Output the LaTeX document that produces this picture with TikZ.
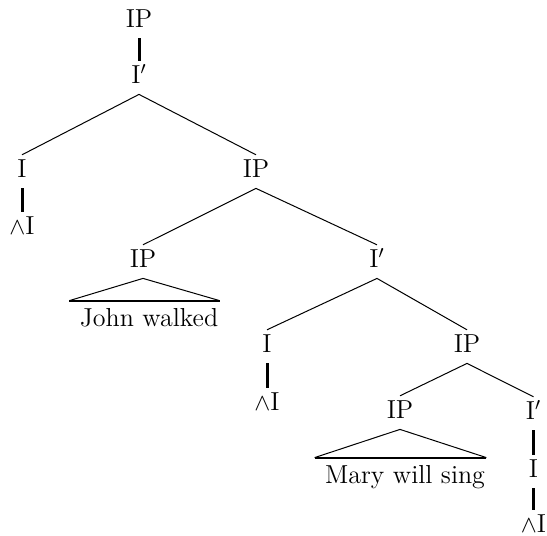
\documentclass[tikz,border=0pt]{standalone}
\usepackage{amsmath,amssymb}
\usepackage{tikz}

\begin{document}
\begin{tikzpicture}[x=0.5pt,y=-0.5pt,
  lbl/.style={anchor=base,inner xsep=0pt,inner ysep=2pt,text height=8.9pt,text depth=3.5pt,font=\fontsize{13}{15}\selectfont},
  yld/.style={lbl,inner ysep=3.6pt,text depth=2pt},
  branch/.style={line width=0.5pt},
  unary/.style={line width=1.5pt},
  roof/.style={line width=1pt}]
\useasboundingbox (0,0) rectangle (547,536);

% labels of the tree, by level %
\node[lbl] (ipA) at (139,27) {IP};
\node[lbl] (ibA) at (139,83) {I$'$};
\node[lbl] (iA) at (22,177) {I};
\node[lbl] (ipB) at (256,177) {IP};
\node[lbl] (wA) at (22,234) {$\wedge$I};
\node[lbl] (ipC) at (143,267) {IP};
\node[lbl] (ibB) at (377,267) {I$'$};
\node[yld] (jw) at (149,326) {John walked};
\node[lbl] (iB) at (267,352) {I};
\node[lbl] (ipD) at (467,352) {IP};
\node[lbl] (wB) at (267,410) {$\wedge$I};
\node[lbl] (ipE) at (400,418) {IP};
\node[lbl] (ibC) at (533.5,419) {I$'$};
\node[lbl] (iC) at (533.5,477) {I};
\node[yld] (mws) at (405,483) {Mary will sing};
\node[lbl] (wC) at (533.5,532) {$\wedge$I};

% unary branches %
\draw[unary] (ipA.south) -- (ibA.north);
\draw[unary] (iA.south) -- (wA.north);
\draw[unary] (iB.south) -- (wB.north);
\draw[unary] (ibC.south) -- (iC.north);
\draw[unary] (iC.south) -- (wC.north);

% binary branches %
\draw[branch] (iA.north) -- (ibA.south) -- (ipB.north);
\draw[branch] (ipC.north) -- (ipB.south) -- (ibB.north);
\draw[branch] (iB.north) -- (ibB.south) -- (ipD.north);
\draw[branch] (ipE.north) -- (ipD.south) -- (ibC.north);

% triangles over the strings %
\draw[branch] ([xshift=-5pt]jw.north west) -- (ipC.south) -- ([xshift=0.5pt]jw.north east);
\draw[roof] ([xshift=-5pt]jw.north west) -- ([xshift=0.5pt]jw.north east);
\draw[branch] ([xshift=-5pt]mws.north west) -- (ipE.south) -- ([xshift=0.5pt]mws.north east);
\draw[roof] ([xshift=-5pt]mws.north west) -- ([xshift=0.5pt]mws.north east);

\end{tikzpicture}
\end{document}
